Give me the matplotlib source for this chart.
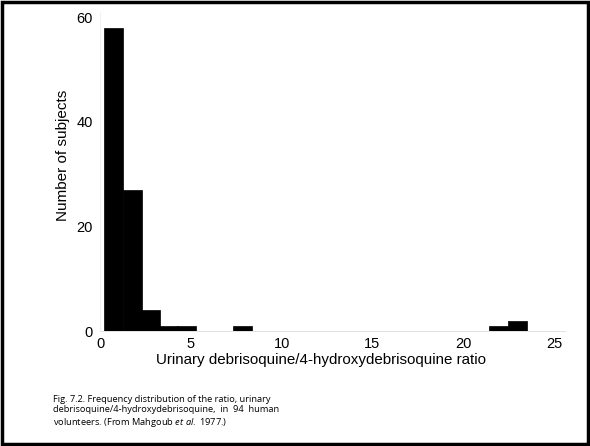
import matplotlib
matplotlib.use("Agg")
import matplotlib.pyplot as plt
from matplotlib.patches import Rectangle

# histogram bins (left edge, ratio units) and counts
bin_left = [0.2, 1.25, 2.25, 3.25, 4.25, 7.3, 21.4, 22.45]
bin_width = 1.05
counts = [58, 27, 4, 1, 1, 1, 1, 2]

xticks = [0, 5, 10, 15, 20, 25]
yticks = [0, 20, 40, 60]

plt.rcParams['font.family'] = ['Liberation Sans', 'DejaVu Sans']
plt.rcParams['mathtext.fontset'] = 'custom'
plt.rcParams['mathtext.rm'] = 'Open Sans'
plt.rcParams['mathtext.it'] = 'Open Sans:italic'

fig = plt.figure(figsize=(5.9, 4.46), dpi=100)
ax = fig.add_axes([0.1695, 0.2578, 0.788, 0.715])

ax.bar(bin_left, counts, width=bin_width, align='edge', color='black', edgecolor='black', linewidth=0.5)

ax.set_xlim(0, 25.6)
ax.set_ylim(0, 61)
ax.set_xticks(xticks)
ax.set_yticks(yticks)
ax.tick_params(axis='both', length=0, labelsize=10.5, pad=5)
ax.tick_params(axis='x', pad=4.5)

for s in ['top', 'right']:
    ax.spines[s].set_visible(False)
ax.spines['left'].set_color('#eeeeee')
ax.spines['bottom'].set_color('#dddddd')
ax.spines['left'].set_linewidth(0.6)
ax.spines['bottom'].set_linewidth(0.6)

ax.set_ylabel('Number of subjects', fontsize=11)
ax.yaxis.set_label_coords(-0.064, 0.55)
ax.set_xlabel('Urinary debrisoquine/4-hydroxydebrisoquine ratio', fontsize=10.9)
ax.xaxis.set_label_coords(0.475, -0.068)

caption = ('Fig. 7.2. Frequency distribution of the ratio, urinary\n'
           'debrisoquine/4-hydroxydebrisoquine,  in  94  human\n'
           'volunteers. (From Mahgoub $\\it{et\\ al.}$ 1977.)')
fig.text(53 / 590, 1 - 395 / 446, caption, fontsize=6.7, va='top', ha='left',
         linespacing=1.2, family=['Open Sans', 'DejaVu Sans'])

fig.patches.append(Rectangle((0.003, 0.004), 0.994, 0.992, transform=fig.transFigure,
                             fill=False, edgecolor='black', linewidth=2.5))

fig.savefig('out.png', dpi=100)
